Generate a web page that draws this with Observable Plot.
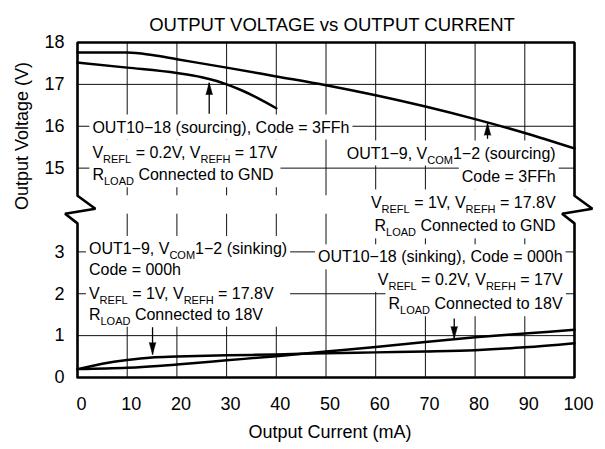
<!DOCTYPE html>
<html><head><meta charset="utf-8">
<script src="https://cdn.jsdelivr.net/npm/d3@7"></script>
<script src="https://cdn.jsdelivr.net/npm/@observablehq/plot@0.6"></script>
<style>
body{margin:0;background:#fff;}
svg{display:block;}
</style>
</head><body><div id="chart"></div>
<script>
// ---------- data ----------
const title = "OUTPUT VOLTAGE vs OUTPUT CURRENT";
const xLabel = "Output Current (mA)";
const yLabel = "Output Voltage (V)";
const xTicks = [0, 10, 20, 30, 40, 50, 60, 70, 80, 90, 100];
const yTicks = [0, 1, 2, 3, 15, 16, 17, 18];

// OUT1-9, VCOM1-2 sourcing (Code = 3FFh)
const srcA_x = [0, 5, 10, 15, 20, 30, 40, 50, 60, 70, 80, 90, 100];
const srcA_v = [17.76, 17.76, 17.76, 17.7, 17.6, 17.4, 17.19, 16.98, 16.74, 16.47, 16.17, 15.84, 15.47];
// OUT10-18 sourcing (Code = 3FFh)
const srcB_x = [0, 10, 20, 25, 28, 30, 33, 36, 40];
const srcB_v = [17.52, 17.4, 17.27, 17.17, 17.08, 17.0, 16.86, 16.69, 16.43];
// OUT1-9, VCOM1-2 sinking (Code = 000h)
const snkC_x = [0, 5, 10, 15, 20, 30, 40, 50, 60, 70, 80, 90, 100];
const snkC_v = [0.2, 0.33, 0.42, 0.48, 0.5, 0.53, 0.55, 0.58, 0.6, 0.62, 0.65, 0.72, 0.82];
// OUT10-18 sinking (Code = 000h)
const snkD_x = [0, 10, 20, 30, 40, 50, 60, 70, 80, 90, 100];
const snkD_v = [0.2, 0.23, 0.31, 0.41, 0.51, 0.62, 0.73, 0.85, 0.96, 1.05, 1.14];

// pointer arrows: x (mA), from (V), to = tip (V)
const arrowX = [26.5, 82.5, 15.1, 75.8];
const arrowFrom = [16.3, 15.7, 1.2, 1.41];
const arrowTo = [17.04, 16.07, 0.55, 0.93];

// annotations ("_{..}" = subscript); y given in axis-position units of the broken axis
const noteText = [
  "OUT10−18 (sourcing), Code = 3FFh",
  "V_{REFL} = 0.2V, V_{REFH} = 17V",
  "R_{LOAD} Connected to GND",
  "OUT1−9, V_{COM}1−2 (sourcing)",
  "Code = 3FFh",
  "V_{REFL} = 1V, V_{REFH} = 17.8V",
  "R_{LOAD} Connected to GND",
  "OUT1−9, V_{COM}1−2 (sinking)",
  "Code = 000h",
  "V_{REFL} = 1V, V_{REFH} = 17.8V",
  "R_{LOAD} Connected to 18V",
  "OUT10−18 (sinking), Code = 000h",
  "V_{REFL} = 0.2V, V_{REFH} = 17V",
  "R_{LOAD} Connected to 18V"
];
const noteX = [3.0, 3.0, 3.0, 96.2, 96.2, 96.2, 96.2, 2.3, 2.3, 2.3, 2.3, 97.6, 97.6, 97.6];
const noteY = [5.97, 5.37, 4.83, 5.35, 4.78, 4.18, 3.61, 3.07, 2.56, 2.0, 1.5, 2.87, 2.33, 1.75];
const noteAlign = ["start","start","start","end","end","end","end","start","start","start","start","end","end","end"];
const noteBox = ["ul1","ul2","ul2","ur1","ur2","ur3","ur4","ll","ll","ll","ll","lr1","lr2","lr3"];

// broken axis: lower band 0–3.9 V, upper band 14.3–18 V (drawn from 4.3 up)
const breakTop = 4.34, breakBottom = 3.68, gridLowTop = 3.9;
const disp = v => v > 10 ? v - 10 : v;

// ---------- build ----------
const F = "'Liberation Sans', Arial, Helvetica, sans-serif";
const rows = (xs, vs) => xs.map((x, i) => ({x, y: disp(vs[i])}));
const arrows = arrowX.map((x, i) => ({x, y1: disp(arrowFrom[i]), y2: disp(arrowTo[i])}));
const notes = noteText.map((t, i) => ({t, x: noteX[i], y: noteY[i], a: noteAlign[i], box: noteBox[i]}));
const gridV = [10, 20, 30, 40, 50, 60, 70, 80, 90];
const gridH = [1, 2, 3, 15, 16, 17].map(disp);
const frameX = [0, 0, -2.5, 3.6, 0, 0, 100, 100, 103.6, 97.5, 100, 100, 0];
const frameY = [0, breakBottom, 3.91, 4.03, breakTop, 8, 8, breakTop, 4.03, 3.91, breakBottom, 0, 0];
const frame = frameX.map((x, i) => ({x, y: frameY[i]}));

const lineOpts = {x: "x", y: "y", stroke: "black", strokeWidth: 2.5, curve: "monotone-x"};
const noteOpts = a => ({filter: d => d.a === a, x: "x", y: "y", text: "t", textAnchor: a, fontSize: 16, fontFamily: F, fill: "black"});

const chart = Plot.plot({
  width: 605, height: 449,
  marginLeft: 77, marginRight: 31, marginTop: 42, marginBottom: 72,
  style: {fontFamily: F, fontSize: "18px", background: "white", color: "black"},
  x: {domain: [0, 100]},
  y: {domain: [0, 8]},
  marks: [
    Plot.ruleX(gridV, {y1: breakTop, y2: 8, stroke: "#111", strokeWidth: 1}),
    Plot.ruleX(gridV, {y1: 0, y2: gridLowTop, stroke: "#111", strokeWidth: 1}),
    Plot.ruleY(gridH, {x1: 0, x2: 100, stroke: "#111", strokeWidth: 1}),
    Plot.text(notes, noteOpts("start")),
    Plot.text(notes, noteOpts("end")),
    Plot.line(rows(srcA_x, srcA_v), lineOpts),
    Plot.line(rows(srcB_x, srcB_v), lineOpts),
    Plot.line(rows(snkC_x, snkC_v), lineOpts),
    Plot.line(rows(snkD_x, snkD_v), lineOpts),
    Plot.link(arrows, {x1: "x", x2: "x", y1: "y1", y2: "y2", stroke: "black", strokeWidth: 1.3}),
    Plot.vector(arrows, {x: "x", y: "y2", rotate: d => d.y2 > d.y1 ? 0 : 180, anchor: "end", shape: "spike", length: 12, r: 3.3, fill: "black", stroke: "black", strokeWidth: 0.5}),
    Plot.line(frame, {x: "x", y: "y", stroke: "black", strokeWidth: 2.6, strokeLinejoin: "miter", curve: "linear"}),
    Plot.axisX({ticks: xTicks, tickSize: 0, tickPadding: 20, dx: 4, fontSize: 18, fontFamily: F, label: null}),
    Plot.axisY(yTicks.map(disp), {tickSize: 0, tickPadding: 13, fontSize: 18, fontFamily: F, label: null, tickFormat: d => d > 4 ? d + 10 : d}),
    Plot.text([title], {frameAnchor: "top", dy: -25, dx: 6, fontSize: 18.5, fontFamily: F, fill: "black"}),
    Plot.text([xLabel], {frameAnchor: "bottom", dy: 60, dx: 4, fontSize: 18, fontFamily: F, fill: "black"}),
    Plot.text([yLabel], {frameAnchor: "left", dx: -55, rotate: -90, fontSize: 18, fontFamily: F, fill: "black"})
  ]
});
document.getElementById("chart").appendChild(chart);

// ---------- subscripts + white label boxes ----------
const NS = "http://www.w3.org/2000/svg";
const svg = chart.tagName.toLowerCase() === "svg" ? chart : chart.querySelector("svg");
const allTexts = Array.from(svg.querySelectorAll("text"));
const used = new Set();
const anchorOf = el => { const g = el.closest("[text-anchor]"); return g ? g.getAttribute("text-anchor") : "start"; };
const noteEls = notes.map(n => {
  const el = allTexts.find(e => !used.has(e) && e.textContent === n.t && anchorOf(e) === n.a);
  if (el) used.add(el);
  return el;
});
noteEls.forEach(el => {
  if (!el) return;
  const s = el.textContent;
  if (!s.includes("_{")) return;
  el.textContent = "";
  let shifted = false;
  s.split(/(_\{[^}]*\})/).forEach(p => {
    if (!p) return;
    const ts = document.createElementNS(NS, "tspan");
    if (p.startsWith("_{")) {
      ts.textContent = p.slice(2, -1);
      ts.setAttribute("font-size", "11");
      ts.setAttribute("dy", "5");
      shifted = true;
    } else {
      ts.textContent = p;
      if (shifted) { ts.setAttribute("dy", "-5"); shifted = false; }
    }
    el.appendChild(ts);
  });
});
const yScale = chart.scale("y");
const sr = svg.getBoundingClientRect();
const boxes = {};
noteEls.forEach((el, i) => {
  if (!el) return;
  const r = el.getBoundingClientRect();
  const cy = yScale.apply(notes[i].y);
  const b = boxes[notes[i].box] || (boxes[notes[i].box] = {x0: Infinity, x1: -Infinity, y0: Infinity, y1: -Infinity});
  b.x0 = Math.min(b.x0, r.left - sr.left - 3);
  b.x1 = Math.max(b.x1, r.right - sr.left + 3);
  b.y0 = Math.min(b.y0, cy - 12.5);
  b.y1 = Math.max(b.y1, cy + 12.5);
});
const firstNoteG = noteEls.filter(Boolean).map(e => e.parentNode)
  .sort((a, b) => (a.compareDocumentPosition(b) & Node.DOCUMENT_POSITION_FOLLOWING) ? -1 : 1)[0];
const bg = document.createElementNS(NS, "g");
Object.values(boxes).forEach(b => {
  const rc = document.createElementNS(NS, "rect");
  rc.setAttribute("x", b.x0); rc.setAttribute("y", b.y0);
  rc.setAttribute("width", b.x1 - b.x0); rc.setAttribute("height", b.y1 - b.y0);
  rc.setAttribute("fill", "white");
  bg.appendChild(rc);
});
if (firstNoteG) firstNoteG.parentNode.insertBefore(bg, firstNoteG);
</script>
</body></html>
